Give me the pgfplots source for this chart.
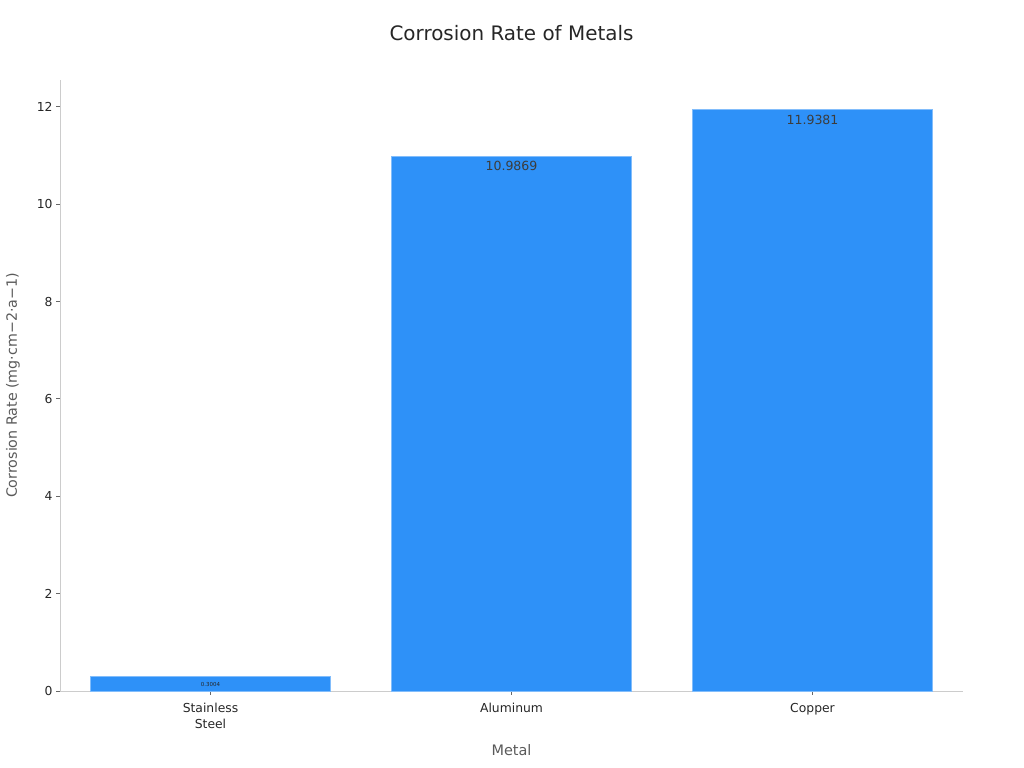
\documentclass[border=0pt]{standalone}
\usepackage{pgfplots}
\pgfplotsset{compat=1.18}
\usepackage{fontspec}
\setmainfont{DejaVu Sans}
\definecolor{barblue}{RGB}{46,145,248}
\definecolor{axgray}{RGB}{204,204,204}
\definecolor{txt}{RGB}{38,38,38}
\definecolor{lbl}{RGB}{90,90,90}
\begin{document}
\begin{tikzpicture}[x=1bp,y=1bp]
\path[use as bounding box] (0,0) rectangle (1024,768);
\begin{axis}[
    at={(60bp,77bp)}, anchor=south west,
    scale only axis,
    width=903bp, height=611bp,
    xmin=-0.5, xmax=2.5,
    ymin=0, ymax=12.55,
    xtick={0,1,2},
    xticklabels={Stainless\\Steel, Aluminum, Copper},
    ytick={0,2,4,6,8,10,12},
    axis x line*=bottom, axis y line*=left,
    axis line style={draw=axgray, line width=0.8bp},
    tick style={draw=txt!70, line width=0.8bp},
    tick align=outside,
    major tick length=4bp,
    every tick label/.style={font=\fontsize{12.4}{16}\selectfont, text=txt},
    xticklabel style={align=center, yshift=-5bp},
    /pgf/number format/assume math mode=true,
    title={Corrosion Rate of Metals},
    title style={at={(axis description cs:0.5,1.067)}, anchor=center,
        font=\fontsize{20}{24}\selectfont, text=txt},
    xlabel={Metal},
    xlabel style={at={(axis description cs:0.5,-0.0966)}, anchor=center,
        font=\fontsize{14.5}{17}\selectfont, text=lbl},
    ylabel={Corrosion Rate (mg·cm−2·a−1)},
    ylabel style={at={(axis description cs:-0.052,0.5)}, anchor=center,
        font=\fontsize{14.3}{17}\selectfont, text=lbl},
    ybar, bar width=240bp,
    clip=false,
]
\addplot[fill=barblue, draw=barblue!60!white, line width=0.8bp]
    coordinates {(0,0.3004) (1,10.9869) (2,11.9381)};
\node[anchor=north, font=\fontsize{5.5}{6}\selectfont, text=txt, yshift=-2.5bp] at (axis cs:0,0.3004) {0.3004};
\node[anchor=north, font=\fontsize{12.6}{15}\selectfont, text=txt!90, yshift=-2bp] at (axis cs:1,10.9869) {10.9869};
\node[anchor=north, font=\fontsize{12.6}{15}\selectfont, text=txt!90, yshift=-2bp] at (axis cs:2,11.9381) {11.9381};
\end{axis}
\end{tikzpicture}
\end{document}
